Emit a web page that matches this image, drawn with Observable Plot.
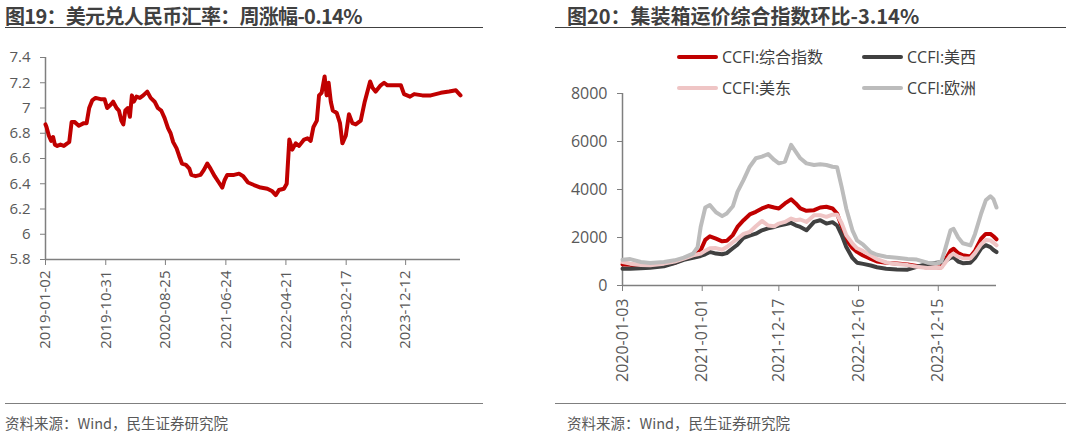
<!DOCTYPE html>
<html>
<head>
<meta charset="utf-8">
<script src="https://cdn.jsdelivr.net/npm/d3@7"></script>
<script src="https://cdn.jsdelivr.net/npm/@observablehq/plot@0.6"></script>
<style>
  html, body { margin: 0; padding: 0; background: #fff; }
  #root { position: relative; width: 1066px; height: 436px; background: #fff; overflow: hidden; }
  .abs { position: absolute; white-space: nowrap; }
  .title { font-family: "Noto Sans CJK SC", sans-serif; font-weight: bold; font-size: 20px; line-height: 20px; color: #404040; }
  .hr { height: 0; border-top: 1.5px solid #404040; }
  .hr2 { height: 0; border-top: 1.5px solid #7f7f7f; }
  .src { font-family: "Noto Sans CJK SC", sans-serif; font-size: 14.5px; line-height: 16px; color: #595959; }
  .leg { font-family: "Open Sans", "Noto Sans CJK SC", sans-serif; font-size: 16px; line-height: 18px; color: #404040; display: flex; align-items: center; }
  .sw { display: inline-block; width: 41px; height: 4px; border-radius: 2px; margin-right: 4px; }
  .plot { position: absolute; top: 0; }
</style>
</head>
<body>
<div id="root">
  <div class="abs title" style="left:5px;top:6px;letter-spacing:-0.7px;">图19：美元兑人民币汇率：周涨幅-0.14%</div>
  <div class="abs hr" style="left:5px;top:27px;width:478px;"></div>
  <div class="abs title" style="left:567px;top:6px;">图20：集装箱运价综合指数环比-3.14%</div>
  <div class="abs hr" style="left:555px;top:27px;width:511px;"></div>

  <div id="left" class="plot" style="left:0px;"></div>
  <div id="right" class="plot" style="left:540px;"></div>

  <div id="legend"></div>

  <div class="abs hr2" style="left:5px;top:403px;width:478px;"></div>
  <div class="abs hr2" style="left:555px;top:403px;width:511px;"></div>
  <div class="abs src" style="left:5px;top:415px;">资料来源：Wind，民生证券研究院</div>
  <div class="abs src" style="left:567px;top:415px;">资料来源：Wind，民生证券研究院</div>
</div>
<script>
// ---------- Figure 19: USD/CNY ----------
const usdDates = [
  "2019-01-02","2019-01-07","2019-01-19","2019-01-30","2019-02-09","2019-02-18","2019-03-02","2019-03-18","2019-04-04","2019-04-21",
  "2019-05-01","2019-05-13","2019-05-27","2019-06-18","2019-07-13","2019-07-27","2019-08-09","2019-08-24","2019-09-10","2019-10-05",
  "2019-10-25","2019-11-07","2019-11-27","2019-12-07","2019-12-24","2020-01-05","2020-01-17","2020-01-27","2020-02-06","2020-02-19",
  "2020-02-29","2020-03-10","2020-03-20","2020-04-02","2020-04-19","2020-05-06","2020-05-26","2020-06-12","2020-07-02","2020-07-18",
  "2020-08-04","2020-08-21","2020-09-07","2020-09-20","2020-10-03","2020-10-20","2020-11-02","2020-11-16","2020-12-06","2020-12-23",
  "2021-01-02","2021-01-23","2021-02-17","2021-03-06","2021-03-23","2021-04-08","2021-04-29","2021-05-20","2021-06-06","2021-06-18",
  "2021-07-01","2021-08-04","2021-08-29","2021-09-19","2021-10-13","2021-11-12","2021-12-15","2022-01-18","2022-02-12","2022-03-01",
  "2022-03-17","2022-04-11","2022-04-25","2022-05-08","2022-05-23","2022-06-09","2022-06-26","2022-07-21","2022-08-07","2022-08-23",
  "2022-09-06","2022-09-23","2022-10-04","2022-10-17","2022-11-01","2022-11-11","2022-11-21","2022-12-02","2022-12-12","2023-01-01",
  "2023-01-17","2023-01-29","2023-02-15","2023-03-03","2023-03-20","2023-04-06","2023-05-01","2023-05-21","2023-06-07","2023-06-17",
  "2023-06-29","2023-07-15","2023-08-09","2023-08-26","2023-09-12","2023-10-15","2023-11-18","2023-12-04","2024-01-03","2024-01-24",
  "2024-03-05","2024-04-16","2024-06-05","2024-07-17","2024-08-20","2024-09-12"
];
const usdValues = [
  6.87,6.85,6.78,6.74,6.77,6.71,6.70,6.71,6.70,6.72,
  6.73,6.89,6.89,6.86,6.88,6.88,7.00,7.06,7.08,7.07,
  7.07,7.00,7.03,7.05,7.00,6.98,6.90,6.87,6.98,7.00,
  6.93,7.10,7.05,7.09,7.08,7.10,7.13,7.08,7.05,7.00,
  6.98,6.92,6.84,6.80,6.73,6.68,6.62,6.56,6.55,6.52,
  6.47,6.46,6.47,6.51,6.56,6.52,6.46,6.41,6.37,6.43,
  6.47,6.47,6.48,6.46,6.41,6.39,6.37,6.36,6.34,6.31,
  6.35,6.36,6.40,6.75,6.67,6.72,6.70,6.75,6.76,6.74,
  6.85,6.90,7.10,7.12,7.25,7.10,7.20,7.05,6.98,6.96,
  6.88,6.72,6.78,6.95,6.88,6.87,6.90,7.05,7.15,7.21,
  7.16,7.13,7.18,7.20,7.18,7.18,7.18,7.11,7.09,7.11,
  7.10,7.10,7.12,7.13,7.14,7.10
];
const usdXTicks = ["2019-01-02","2019-10-31","2020-08-25","2021-06-24","2022-04-21","2023-02-17","2023-12-12"];
const usdYTicks = [5.8, 6, 6.2, 6.4, 6.6, 6.8, 7, 7.2, 7.4];
const usdXDomain = ["2019-01-02", "2024-09-12"];

// ---------- Figure 20: CCFI ----------
const ccfiDates = [
  "2020-01-03","2020-02-07","2020-03-27","2020-05-08","2020-07-10","2020-08-28","2020-10-09","2020-11-20","2020-12-11","2020-12-25",
  "2021-01-15","2021-02-05","2021-03-05","2021-04-02","2021-04-23","2021-05-21","2021-06-11","2021-07-09","2021-08-06","2021-09-03",
  "2021-10-01","2021-10-29","2021-11-26","2021-12-17","2022-01-14","2022-02-11","2022-03-04","2022-03-25","2022-04-22","2022-05-27",
  "2022-06-24","2022-07-22","2022-08-19","2022-09-09","2022-09-30","2022-10-21","2022-11-18","2022-12-09","2023-01-06","2023-02-10",
  "2023-03-10","2023-04-21","2023-06-09","2023-07-28","2023-09-08","2023-10-27","2023-12-08","2023-12-29","2024-01-12","2024-02-09",
  "2024-02-23","2024-03-15","2024-04-05","2024-05-10","2024-05-31","2024-06-28","2024-07-19","2024-08-09","2024-08-23","2024-09-06"
];
const ccfiComposite = [
  879,860,780,800,880,940,1110,1230,1350,1470,
  1900,2050,1950,1840,1860,2100,2440,2720,2960,3070,
  3210,3310,3250,3210,3420,3590,3420,3210,3110,3140,
  3250,3280,3210,3000,2450,1900,1560,1400,1250,1110,
  1000,950,920,880,810,750,740,760,1000,1450,
  1530,1350,1260,1210,1450,1950,2150,2150,2050,1925
];
const ccfiUSWest = [
  698,700,720,740,800,930,1070,1150,1200,1230,
  1300,1400,1330,1300,1350,1550,1700,1990,2080,2160,
  2300,2380,2440,2500,2550,2610,2510,2440,2300,2650,
  2720,2580,2640,2500,2100,1600,1150,950,900,833,
  760,700,670,660,780,900,950,970,1000,1150,
  1180,1000,930,950,1150,1550,1680,1600,1480,1395
];
const ccfiUSEast = [
  977,910,850,840,910,1000,1120,1260,1300,1330,
  1450,1550,1560,1490,1600,1800,1950,2150,2230,2470,
  2690,2500,2470,2580,2650,2790,2720,2750,2650,2930,
  2930,2860,2950,2950,2600,2100,1750,1550,1430,1250,
  1100,960,900,850,780,730,725,735,900,1250,
  1320,1200,1140,1130,1350,1720,1900,1880,1780,1674
];
const ccfiEurope = [
  1074,1100,980,940,980,1050,1160,1330,1600,2440,
  3250,3350,3050,2890,3000,3300,3900,4400,4950,5300,
  5370,5480,5230,5090,5160,5860,5580,5300,5090,5020,
  5050,5020,4950,4930,4100,3200,2300,1880,1700,1390,
  1280,1200,1160,1100,1080,950,920,1000,1400,2300,
  2360,2000,1760,1670,2150,3000,3550,3720,3600,3250
];
const ccfiXTicks = ["2020-01-03","2021-01-01","2021-12-17","2022-12-16","2023-12-15"];
const ccfiYTicks = [0, 2000, 4000, 6000, 8000];
const ccfiXDomain = ["2020-01-03", "2024-09-06"];

const seriesNames = ["CCFI:综合指数", "CCFI:美西", "CCFI:美东", "CCFI:欧洲"];
const seriesColors = ["#c00000", "#404040", "#efc5c5", "#bcbcbc"];

// ---------- helpers ----------
const parse = d3.utcParse("%Y-%m-%d");
const fmtDate = d3.utcFormat("%Y-%m-%d");
const axisColor = "#7f7f7f";

// ---------- left chart ----------
const usdData = usdDates.map((d, i) => ({date: parse(d), value: usdValues[i]}));
const leftPlot = Plot.plot({
  width: 540, height: 400,
  marginLeft: 45, marginRight: 80, marginTop: 57, marginBottom: 141,
  style: {fontFamily: "'Open Sans', sans-serif", fontSize: "15px", color: "#595959", background: "transparent"},
  x: {type: "utc", domain: usdXDomain.map(parse), label: null},
  y: {domain: [5.8, 7.4], label: null},
  marks: [
    Plot.axisY({ticks: usdYTicks, tickFormat: d => String(+d.toFixed(1)), tickSize: 5, tickPadding: 10, stroke: axisColor, label: null}),
    Plot.axisX({ticks: usdXTicks.map(parse), tickFormat: fmtDate, tickRotate: -90, tickSize: 6, tickPadding: 5, stroke: axisColor, label: null}),
    Plot.ruleX([parse(usdXDomain[0])], {stroke: axisColor, strokeWidth: 1.5}),
    Plot.ruleY([5.8], {stroke: axisColor, strokeWidth: 1.5}),
    Plot.lineY(usdData, {x: "date", y: "value", stroke: "#c00000", strokeWidth: 4, strokeLinejoin: "round"})
  ]
});
document.getElementById("left").appendChild(leftPlot);

// ---------- right chart ----------
const seriesValues = [ccfiComposite, ccfiUSWest, ccfiUSEast, ccfiEurope];
const ccfiData = seriesValues.map(vals => ccfiDates.map((d, i) => ({date: parse(d), value: vals[i]})));
const rightPlot = Plot.plot({
  width: 526, height: 400,
  marginLeft: 82, marginRight: 70, marginTop: 93, marginBottom: 115,
  style: {fontFamily: "'Open Sans', sans-serif", fontSize: "16px", color: "#595959", background: "transparent"},
  x: {type: "utc", domain: ccfiXDomain.map(parse), label: null},
  y: {domain: [0, 8000], label: null},
  marks: [
    Plot.axisY({ticks: ccfiYTicks, tickFormat: d => String(d), tickSize: 5, tickPadding: 10, stroke: axisColor, label: null}),
    Plot.axisX({ticks: ccfiXTicks.map(parse), tickFormat: fmtDate, tickRotate: -90, tickSize: 6, tickPadding: 7, stroke: axisColor, label: null}),
    Plot.ruleX([parse(ccfiXDomain[0])], {stroke: axisColor, strokeWidth: 1.5}),
    Plot.ruleY([0], {stroke: axisColor, strokeWidth: 1.5}),
    Plot.lineY(ccfiData[0], {x: "date", y: "value", stroke: seriesColors[0], strokeWidth: 4, strokeLinejoin: "round"}),
    Plot.lineY(ccfiData[1], {x: "date", y: "value", stroke: seriesColors[1], strokeWidth: 4, strokeLinejoin: "round"}),
    Plot.lineY(ccfiData[2], {x: "date", y: "value", stroke: seriesColors[2], strokeWidth: 4, strokeLinejoin: "round"}),
    Plot.lineY(ccfiData[3], {x: "date", y: "value", stroke: seriesColors[3], strokeWidth: 4, strokeLinejoin: "round"})
  ]
});
document.getElementById("right").appendChild(rightPlot);

// ---------- legend ----------
const legendPos = [[677, 48], [862, 48], [677, 79], [862, 79]];
const legend = document.getElementById("legend");
seriesNames.forEach((name, i) => {
  const div = document.createElement("div");
  div.className = "abs leg";
  div.style.left = legendPos[i][0] + "px";
  div.style.top = legendPos[i][1] + "px";
  const sw = document.createElement("span");
  sw.className = "sw";
  sw.style.background = seriesColors[i];
  div.appendChild(sw);
  div.appendChild(document.createTextNode(name));
  legend.appendChild(div);
});
</script>
</body>
</html>
